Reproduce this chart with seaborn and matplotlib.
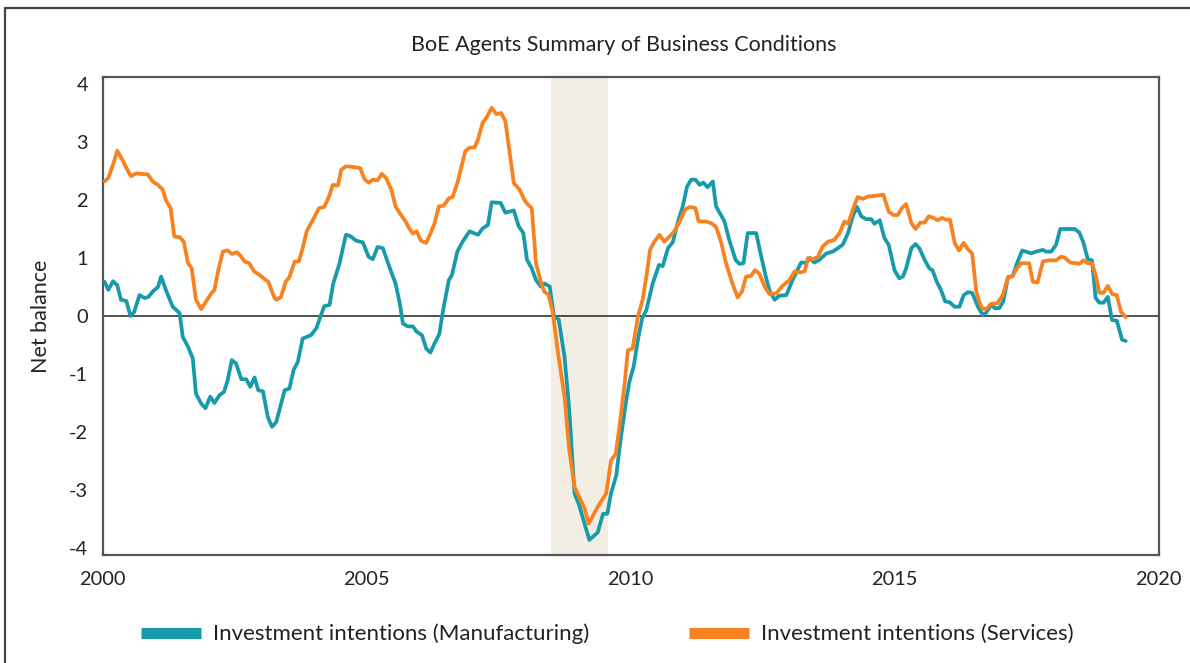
import numpy as np
import pandas as pd
import matplotlib
matplotlib.use("Agg")
import matplotlib.pyplot as plt
from matplotlib.lines import Line2D
import seaborn as sns

# ---- data ----
manu_dates = [2000.04, 2000.11, 2000.20, 2000.28, 2000.35, 2000.45, 2000.53, 2000.60, 2000.70, 2000.80,
              2000.87, 2000.95, 2001.05, 2001.11, 2001.20, 2001.33, 2001.46, 2001.52, 2001.62, 2001.71,
              2001.77, 2001.87, 2001.95, 2002.04, 2002.12, 2002.22, 2002.30, 2002.37, 2002.45, 2002.53,
              2002.63, 2002.72, 2002.80, 2002.88, 2002.95, 2003.04, 2003.13, 2003.21, 2003.29, 2003.45,
              2003.54, 2003.62, 2003.70, 2003.79, 2003.95, 2004.05, 2004.14, 2004.20, 2004.30, 2004.37,
              2004.49, 2004.61, 2004.69, 2004.80, 2004.93, 2005.04, 2005.12, 2005.21, 2005.31, 2005.42,
              2005.55, 2005.63, 2005.69, 2005.78, 2005.88, 2005.95, 2006.05, 2006.13, 2006.21, 2006.29,
              2006.38, 2006.45, 2006.56, 2006.62, 2006.72, 2006.82, 2006.95, 2007.11, 2007.20, 2007.30,
              2007.37, 2007.54, 2007.63, 2007.79, 2007.88, 2007.97, 2008.04, 2008.13, 2008.21, 2008.30,
              2008.37, 2008.47, 2008.55, 2008.64, 2008.75, 2008.84, 2008.94, 2009.02, 2009.13, 2009.22,
              2009.38, 2009.48, 2009.56, 2009.63, 2009.73, 2009.82, 2009.92, 2009.98, 2010.06, 2010.14,
              2010.22, 2010.30, 2010.42, 2010.54, 2010.61, 2010.71, 2010.80, 2010.90, 2010.99, 2011.07,
              2011.15, 2011.23, 2011.31, 2011.38, 2011.46, 2011.56, 2011.62, 2011.78, 2011.87, 2011.99,
              2012.06, 2012.14, 2012.22, 2012.38, 2012.47, 2012.57, 2012.64, 2012.73, 2012.82, 2012.95,
              2013.07, 2013.23, 2013.33, 2013.40, 2013.48, 2013.58, 2013.71, 2013.83, 2013.93, 2014.02,
              2014.12, 2014.21, 2014.29, 2014.37, 2014.46, 2014.56, 2014.62, 2014.72, 2014.81, 2014.89,
              2015.00, 2015.09, 2015.16, 2015.22, 2015.32, 2015.40, 2015.47, 2015.57, 2015.66, 2015.72,
              2015.80, 2015.88, 2015.96, 2016.04, 2016.14, 2016.23, 2016.31, 2016.39, 2016.47, 2016.58,
              2016.67, 2016.73, 2016.83, 2016.91, 2016.99, 2017.06, 2017.15, 2017.24, 2017.32, 2017.42,
              2017.49, 2017.59, 2017.68, 2017.81, 2017.87, 2017.97, 2018.06, 2018.14, 2018.25, 2018.41,
              2018.50, 2018.58, 2018.66, 2018.74, 2018.81, 2018.88, 2018.96, 2019.04, 2019.12, 2019.21,
              2019.31, 2019.38]
manu_values = [0.59, 0.45, 0.60, 0.53, 0.28, 0.26, 0.00, 0.07, 0.36, 0.31,
               0.33, 0.42, 0.50, 0.68, 0.45, 0.16, 0.05, -0.36, -0.53, -0.73,
               -1.34, -1.51, -1.59, -1.39, -1.50, -1.36, -1.31, -1.11, -0.76, -0.82,
               -1.09, -1.09, -1.22, -1.06, -1.28, -1.30, -1.74, -1.91, -1.83, -1.28,
               -1.25, -0.93, -0.79, -0.39, -0.33, -0.21, 0.02, 0.17, 0.19, 0.56,
               0.91, 1.40, 1.38, 1.30, 1.27, 1.02, 0.98, 1.19, 1.17, 0.88,
               0.56, 0.22, -0.13, -0.18, -0.18, -0.27, -0.33, -0.56, -0.63, -0.47,
               -0.31, 0.10, 0.62, 0.71, 1.11, 1.28, 1.46, 1.40, 1.51, 1.57,
               1.96, 1.95, 1.78, 1.82, 1.55, 1.43, 0.97, 0.82, 0.62, 0.51,
               0.56, 0.51, -0.01, -0.06, -0.70, -1.62, -3.06, -3.24, -3.58, -3.86,
               -3.73, -3.41, -3.41, -3.06, -2.75, -2.08, -1.45, -1.13, -0.87, -0.41,
               -0.04, 0.10, 0.56, 0.88, 0.86, 1.17, 1.27, 1.63, 1.89, 2.23,
               2.35, 2.35, 2.26, 2.30, 2.22, 2.32, 1.89, 1.63, 1.31, 0.97,
               0.90, 0.91, 1.43, 1.43, 1.05, 0.65, 0.42, 0.28, 0.35, 0.36,
               0.62, 0.92, 0.92, 1.00, 0.92, 0.97, 1.08, 1.11, 1.17, 1.23,
               1.43, 1.72, 1.88, 1.72, 1.67, 1.67, 1.59, 1.65, 1.34, 1.23,
               0.79, 0.65, 0.68, 0.82, 1.17, 1.24, 1.17, 0.97, 0.82, 0.79,
               0.59, 0.45, 0.25, 0.24, 0.16, 0.16, 0.36, 0.41, 0.40, 0.16,
               0.02, 0.05, 0.19, 0.13, 0.14, 0.25, 0.67, 0.69, 0.91, 1.13,
               1.11, 1.08, 1.11, 1.14, 1.11, 1.11, 1.23, 1.50, 1.50, 1.50,
               1.44, 1.26, 0.98, 0.96, 0.31, 0.23, 0.23, 0.33, -0.07, -0.08,
               -0.41, -0.43]

serv_dates = [2000.04, 2000.11, 2000.20, 2000.28, 2000.39, 2000.47, 2000.54, 2000.64, 2000.73, 2000.86,
              2000.95, 2001.05, 2001.14, 2001.20, 2001.29, 2001.36, 2001.46, 2001.54, 2001.62, 2001.69,
              2001.77, 2001.87, 2001.96, 2002.06, 2002.12, 2002.20, 2002.28, 2002.37, 2002.45, 2002.55,
              2002.63, 2002.69, 2002.78, 2002.87, 2002.97, 2003.08, 2003.14, 2003.26, 2003.30, 2003.38,
              2003.47, 2003.54, 2003.64, 2003.72, 2003.79, 2003.87, 2003.97, 2004.10, 2004.20, 2004.29,
              2004.36, 2004.46, 2004.52, 2004.61, 2004.74, 2004.88, 2004.96, 2005.04, 2005.12, 2005.21,
              2005.29, 2005.37, 2005.47, 2005.55, 2005.64, 2005.74, 2005.81, 2005.88, 2005.95, 2006.03,
              2006.13, 2006.21, 2006.29, 2006.37, 2006.46, 2006.56, 2006.63, 2006.73, 2006.87, 2006.95,
              2007.05, 2007.11, 2007.20, 2007.28, 2007.37, 2007.46, 2007.55, 2007.63, 2007.79, 2007.90,
              2007.99, 2008.06, 2008.13, 2008.21, 2008.31, 2008.37, 2008.45, 2008.53, 2008.62, 2008.75,
              2008.84, 2008.94, 2009.03, 2009.13, 2009.21, 2009.29, 2009.38, 2009.54, 2009.63, 2009.72,
              2009.79, 2009.89, 2009.95, 2010.04, 2010.14, 2010.23, 2010.30, 2010.37, 2010.45, 2010.55,
              2010.64, 2010.74, 2010.83, 2010.93, 2011.04, 2011.13, 2011.23, 2011.29, 2011.43, 2011.53,
              2011.62, 2011.72, 2011.81, 2011.93, 2012.03, 2012.11, 2012.19, 2012.28, 2012.36, 2012.44,
              2012.54, 2012.63, 2012.76, 2012.88, 2013.01, 2013.11, 2013.20, 2013.30, 2013.36, 2013.45,
              2013.55, 2013.64, 2013.74, 2013.86, 2013.96, 2014.05, 2014.12, 2014.21, 2014.30, 2014.40,
              2014.50, 2014.62, 2014.70, 2014.79, 2014.89, 2014.98, 2015.06, 2015.14, 2015.22, 2015.32,
              2015.40, 2015.49, 2015.57, 2015.65, 2015.74, 2015.82, 2015.90, 2015.98, 2016.05, 2016.14,
              2016.22, 2016.31, 2016.39, 2016.47, 2016.55, 2016.61, 2016.67, 2016.75, 2016.83, 2016.95,
              2017.05, 2017.15, 2017.23, 2017.32, 2017.40, 2017.55, 2017.62, 2017.71, 2017.81, 2017.93,
              2018.06, 2018.15, 2018.22, 2018.33, 2018.44, 2018.50, 2018.58, 2018.66, 2018.74, 2018.82,
              2018.88, 2018.96, 2019.04, 2019.12, 2019.21, 2019.29, 2019.38]
serv_values = [2.32, 2.38, 2.61, 2.85, 2.67, 2.52, 2.41, 2.46, 2.45, 2.44,
               2.32, 2.26, 2.18, 2.00, 1.86, 1.37, 1.36, 1.28, 0.91, 0.82,
               0.28, 0.12, 0.25, 0.39, 0.45, 0.82, 1.11, 1.13, 1.07, 1.10,
               1.02, 0.94, 0.91, 0.77, 0.71, 0.63, 0.59, 0.31, 0.28, 0.33,
               0.59, 0.67, 0.94, 0.94, 1.17, 1.47, 1.63, 1.86, 1.88, 2.06,
               2.26, 2.25, 2.52, 2.58, 2.57, 2.55, 2.36, 2.30, 2.35, 2.34,
               2.45, 2.38, 2.18, 1.89, 1.76, 1.63, 1.51, 1.42, 1.46, 1.30,
               1.26, 1.42, 1.60, 1.89, 1.90, 2.03, 2.05, 2.32, 2.84, 2.90,
               2.91, 3.04, 3.33, 3.43, 3.59, 3.48, 3.50, 3.36, 2.29, 2.18,
               2.00, 1.92, 1.86, 0.91, 0.56, 0.42, 0.36, 0.05, -0.59, -1.39,
               -2.31, -2.95, -3.12, -3.32, -3.58, -3.44, -3.29, -3.06, -2.49, -2.38,
               -1.91, -1.16, -0.59, -0.56, -0.01, 0.28, 0.68, 1.14, 1.28, 1.40,
               1.28, 1.37, 1.46, 1.63, 1.84, 1.88, 1.86, 1.63, 1.63, 1.60,
               1.54, 1.26, 0.91, 0.56, 0.32, 0.42, 0.68, 0.69, 0.79, 0.73,
               0.51, 0.38, 0.39, 0.52, 0.62, 0.77, 0.75, 0.77, 1.00, 0.98,
               1.02, 1.20, 1.28, 1.31, 1.43, 1.63, 1.59, 1.83, 2.05, 2.02,
               2.06, 2.07, 2.08, 2.09, 1.80, 1.74, 1.74, 1.86, 1.93, 1.60,
               1.50, 1.61, 1.61, 1.72, 1.69, 1.65, 1.69, 1.66, 1.66, 1.26,
               1.13, 1.26, 1.15, 1.08, 0.42, 0.23, 0.12, 0.13, 0.21, 0.22,
               0.36, 0.67, 0.68, 0.82, 0.91, 0.91, 0.59, 0.58, 0.94, 0.96,
               0.96, 1.02, 1.01, 0.92, 0.91, 0.90, 0.96, 0.91, 0.91, 0.67,
               0.40, 0.40, 0.52, 0.38, 0.36, 0.07, -0.02]

series_names = ["Investment intentions (Manufacturing)", "Investment intentions (Services)"]
x_ticks = [2000, 2005, 2010, 2015, 2020]
y_ticks = [-4, -3, -2, -1, 0, 1, 2, 3, 4]
recession = (2008.50, 2009.58)
title = "BoE Agents Summary of Business Conditions"
y_label = "Net balance"

# ---- style ----
sns.set_theme(style="white")
plt.rcParams["font.family"] = ["Lato", "DejaVu Sans"]
plt.rcParams["axes.unicode_minus"] = False

teal = "#179BAA"
orange = "#F7821F"
palette = {series_names[0]: teal, series_names[1]: orange}

df = pd.concat([
    pd.DataFrame({"date": manu_dates, "value": manu_values, "series": series_names[0]}),
    pd.DataFrame({"date": serv_dates, "value": serv_values, "series": series_names[1]}),
], ignore_index=True)

W, H = 1190, 663
fig = plt.figure(figsize=(W / 100, H / 100), dpi=100)
ax = fig.add_axes([102.5 / W, 1 - 555 / H, 1056 / W, 478 / H])

ax.axvspan(recession[0], recession[1], color="#F3EEE3", lw=0, zorder=0)
ax.axhline(0, color="#222222", lw=1.1, zorder=1)

sns.lineplot(data=df, x="date", y="value", hue="series", palette=palette,
             estimator=None, sort=False, linewidth=2.7, legend=False, ax=ax, zorder=3)

ax.set_xlim(2000, 2020)
ax.set_ylim(-4.12, 4.12)
ax.set_xticks(x_ticks)
ax.set_yticks(y_ticks)
ax.set_xticklabels([str(v) for v in x_ticks])
ax.set_yticklabels([str(v) for v in y_ticks])
ax.set_xlabel("")
ax.set_ylabel(y_label, fontsize=15.5, color="#222222")
ax.yaxis.set_label_coords(-0.049, 0.5)

for s in ax.spines.values():
    s.set_visible(True)
    s.set_color("#555555")
    s.set_linewidth(1.6)

ax.tick_params(axis="both", which="major", direction="out", length=6.5, width=1.4,
               color="#555555", labelsize=14.4, labelcolor="#222222")
ax.tick_params(axis="x", pad=5)
ax.tick_params(axis="y", pad=4)

fig.text(624 / W, 1 - 45 / H, title, ha="center", va="center", fontsize=15.5, color="#222222")

handles = [Line2D([0], [0], color=teal, lw=8, solid_capstyle="butt"),
           Line2D([0], [0], color=orange, lw=8, solid_capstyle="butt")]
fig.legend(handles, series_names, loc="center", bbox_to_anchor=(607 / W, 1 - 634 / H),
           ncol=2, frameon=False, fontsize=16, handlelength=2.7, handletextpad=0.54,
           columnspacing=4.5, labelcolor="#222222")

# outer frame (top and left edges visible in the reference)
fig.add_artist(Line2D([5 / W, 5 / W], [0, 1 - 8 / H], transform=fig.transFigure,
                      color="#444444", lw=1.6))
fig.add_artist(Line2D([5 / W, 1], [1 - 8 / H, 1 - 8 / H], transform=fig.transFigure,
                      color="#444444", lw=1.6))

fig.savefig("out.png", dpi=100)
